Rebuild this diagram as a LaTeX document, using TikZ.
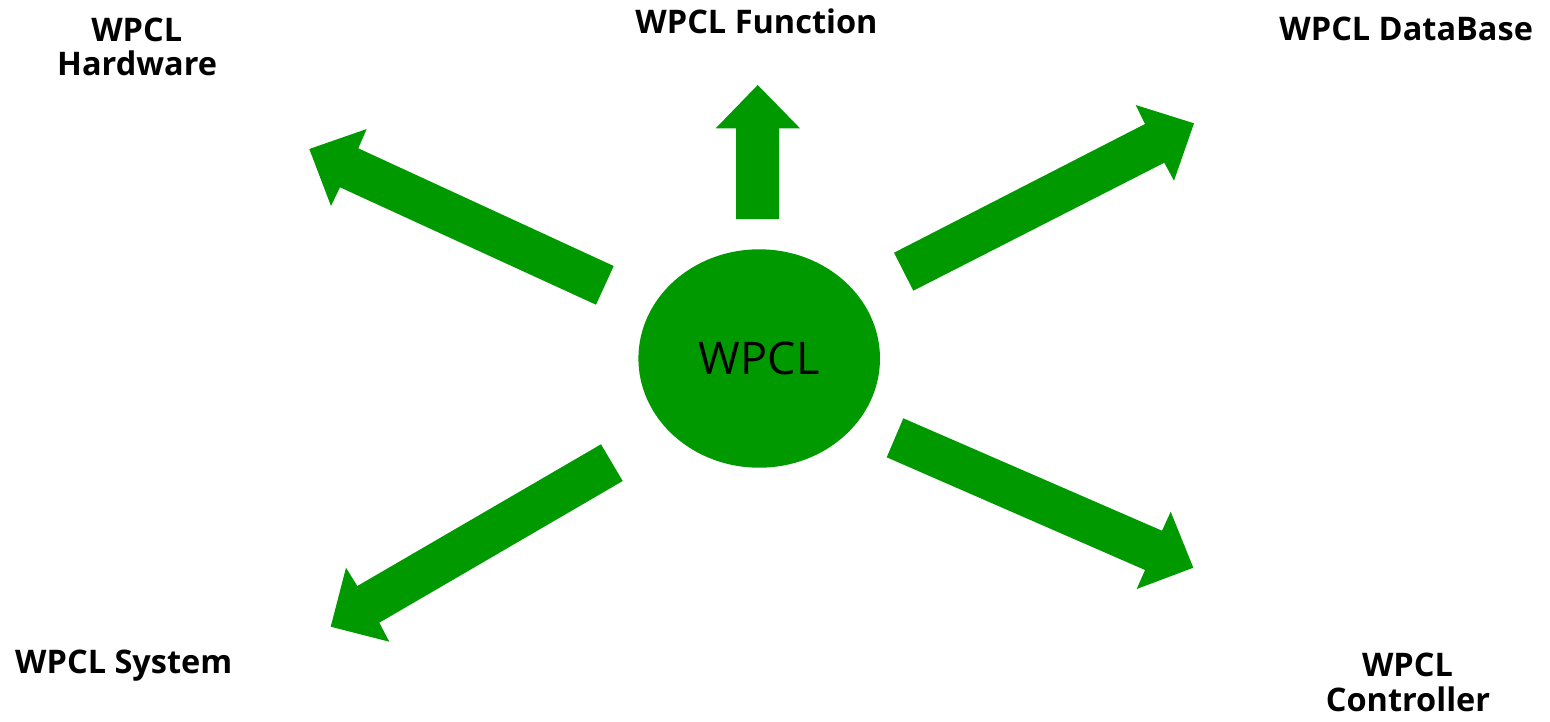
\documentclass[tikz,border=0pt]{standalone}
\usepackage{fontspec}
\setmainfont{Open Sans}
\definecolor{wgreen}{RGB}{0,153,0}
\tikzset{
  blockarrow/.style={fill=wgreen, draw=none},
  lbl/.style={font=\fontsize{32.5}{38}\selectfont\bfseries, text=black, anchor=base, inner sep=0pt},
  hub/.style={ellipse, fill=wgreen, draw=none, minimum width=241.6pt, minimum height=218.4pt, inner sep=0pt,
     font=\fontsize{45}{54}\selectfont, text=black}
}
\usetikzlibrary{shapes.geometric}
\begin{document}
\begin{tikzpicture}[x=1pt,y=-1pt]
\useasboundingbox (0,0) rectangle (1550,721);
% hub
\node[hub] (hub) at (759.2,358.5) {WPCL};
% up arrow
\fill[blockarrow] (736,219) -- (736,128.3) -- (715.7,128.3) -- (757.7,85) -- (800,128.3) -- (779,128.3) -- (779,219) -- cycle;
% upper-left arrow
\fill[blockarrow] (613.7,266) -- (358.3,148.3) -- (366.7,129) -- (309.3,149) -- (331,206) -- (340,187.3) -- (596,304.7) -- cycle;
% upper-right arrow
\fill[blockarrow] (894,252.7) -- (1145,124) -- (1135.7,105) -- (1194,123.3) -- (1174,180.7) -- (1164.3,162.7) -- (913.3,290.7) -- cycle;
% lower-left arrow
\fill[blockarrow] (601,444.3) -- (622.7,481) -- (379.3,622.7) -- (389.3,641.7) -- (330.7,626.7) -- (346,567.7) -- (357.3,586) -- cycle;
% lower-right arrow
\fill[blockarrow] (903.3,418.3) -- (1162,530.7) -- (1170.7,511.7) -- (1193.3,567.7) -- (1136.7,589) -- (1145,570) -- (886.7,457.3) -- cycle;
% labels
\node[lbl] (func) at (756.5,33.3) {WPCL Function};
\node[lbl] (hw1) at (136.7,41.7) {WPCL};
\node[lbl] (hw2) at (137.2,75) {Hardware};
\node[lbl] (db) at (1406.2,40.7) {WPCL DataBase};
\node[lbl] (sys) at (123.8,673.5) {WPCL System};
\node[lbl] (ct1) at (1407.5,676.7) {WPCL};
\node[lbl] (ct2) at (1408,711) {Controller};
\end{tikzpicture}
\end{document}
